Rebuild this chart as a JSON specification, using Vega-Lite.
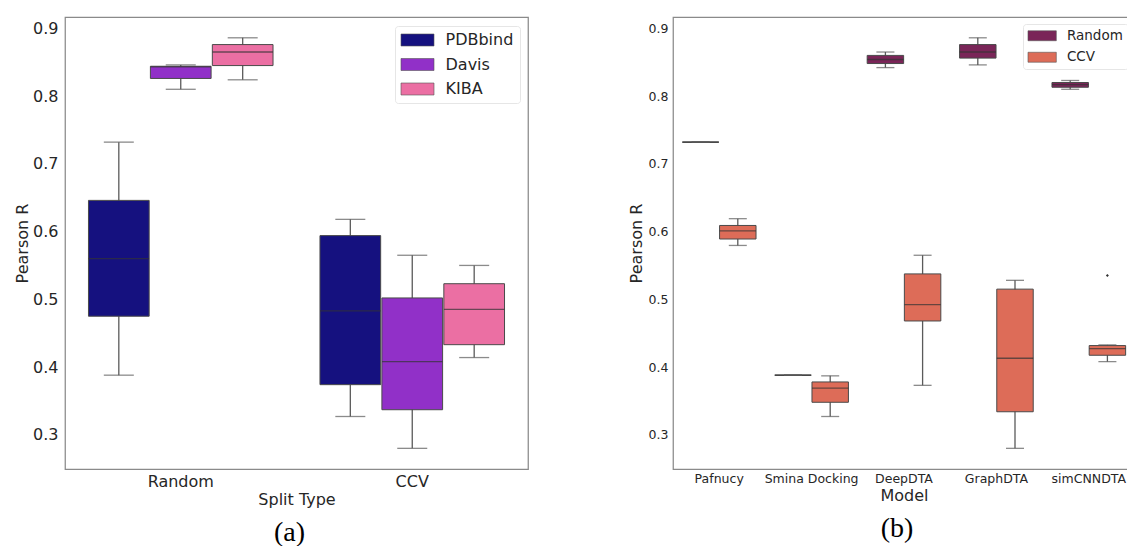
{
  "$schema": "https://vega.github.io/schema/vega-lite/v6.json",
  "background": "white",
  "padding": {"left": 13, "top": 16, "right": 0, "bottom": 0},
  "spacing": 98,
  "config": {
    "font": "DejaVu Sans",
    "view": {"stroke": "#8a8a8a", "strokeWidth": 1.25},
    "axis": {"grid": false, "ticks": false, "tickSize": 0, "domain": false, "labelColor": "#262626", "titleColor": "#262626", "labelFont": "DejaVu Sans", "titleFont": "DejaVu Sans", "titleFontWeight": "normal"},
    "legend": {"labelFont": "DejaVu Sans", "labelColor": "#262626"}
  },
  "datasets": {
    "boxesA": [
      {"split": "Random", "dataset": "PDBbind", "lower": 0.388, "q1": 0.475, "median": 0.560, "q3": 0.646, "upper": 0.732},
      {"split": "Random", "dataset": "Davis", "lower": 0.810, "q1": 0.826, "median": 0.843, "q3": 0.844, "upper": 0.846},
      {"split": "Random", "dataset": "KIBA", "lower": 0.824, "q1": 0.845, "median": 0.865, "q3": 0.876, "upper": 0.886},
      {"split": "CCV", "dataset": "PDBbind", "lower": 0.327, "q1": 0.374, "median": 0.483, "q3": 0.594, "upper": 0.618},
      {"split": "CCV", "dataset": "Davis", "lower": 0.280, "q1": 0.337, "median": 0.408, "q3": 0.502, "upper": 0.565},
      {"split": "CCV", "dataset": "KIBA", "lower": 0.414, "q1": 0.433, "median": 0.485, "q3": 0.523, "upper": 0.550}
    ],
    "boxesB": [
      {"model": "Pafnucy", "split": "Random", "lower": 0.732, "q1": 0.732, "median": 0.732, "q3": 0.732, "upper": 0.732},
      {"model": "Pafnucy", "split": "CCV", "lower": 0.5795, "q1": 0.589, "median": 0.601, "q3": 0.609, "upper": 0.619},
      {"model": "Smina Docking", "split": "Random", "lower": 0.388, "q1": 0.388, "median": 0.388, "q3": 0.388, "upper": 0.388},
      {"model": "Smina Docking", "split": "CCV", "lower": 0.327, "q1": 0.348, "median": 0.369, "q3": 0.378, "upper": 0.387},
      {"model": "DeepDTA", "split": "Random", "lower": 0.842, "q1": 0.848, "median": 0.854, "q3": 0.860, "upper": 0.865},
      {"model": "DeepDTA", "split": "CCV", "lower": 0.373, "q1": 0.468, "median": 0.492, "q3": 0.5375, "upper": 0.565},
      {"model": "GraphDTA", "split": "Random", "lower": 0.846, "q1": 0.856, "median": 0.865, "q3": 0.876, "upper": 0.886},
      {"model": "GraphDTA", "split": "CCV", "lower": 0.280, "q1": 0.334, "median": 0.413, "q3": 0.515, "upper": 0.528},
      {"model": "simCNNDTA", "split": "Random", "lower": 0.810, "q1": 0.813, "median": 0.817, "q3": 0.820, "upper": 0.823},
      {"model": "simCNNDTA", "split": "CCV", "lower": 0.408, "q1": 0.4174, "median": 0.4273, "q3": 0.4317, "upper": 0.4327}
    ],
    "outliersB": [
      {"model": "simCNNDTA", "split": "CCV", "value": 0.535}
    ]
  },
  "resolve": {"scale": {"fill": "independent", "xOffset": "independent", "x": "independent", "y": "independent"}, "legend": {"fill": "independent"}},
  "hconcat": [
    {
      "width": 463,
      "height": 452,
      "data": {"name": "boxesA"},
      "title": {"text": "(a)", "orient": "bottom", "font": "Liberation Serif", "fontSize": 28, "fontWeight": "normal", "color": "#000000", "anchor": "middle", "dx": -7, "offset": 12},
      "encoding": {
        "x": {"field": "split", "type": "nominal", "sort": ["Random", "CCV"], "scale": {"paddingInner": 0, "paddingOuter": 0}, "axis": {"title": "Split Type", "labelAngle": 0, "labelFontSize": 16, "titleFontSize": 16, "labelPadding": 4, "titlePadding": 2}},
        "xOffset": {"field": "dataset", "type": "nominal", "sort": ["PDBbind", "Davis", "KIBA"], "scale": {"paddingInner": 0.02, "paddingOuter": 0.379}}
      },
      "layer": [
        {
          "mark": {"type": "rule", "color": "#5a5a5a", "strokeWidth": 1.3},
          "encoding": {
            "y": {"field": "lower", "type": "quantitative", "title": "Pearson R", "scale": {"domain": [0.2495, 0.9167], "nice": false, "zero": false}, "axis": {"values": [0.3, 0.4, 0.5, 0.6, 0.7, 0.8, 0.9], "format": ".1f", "labelFontSize": 16, "titleFontSize": 16, "labelPadding": 7, "titlePadding": 2}},
            "y2": {"field": "upper"}
          }
        },
        {
          "mark": {"type": "bar", "stroke": "#4a4a4a", "strokeWidth": 1},
          "encoding": {
            "y": {"field": "q1", "type": "quantitative", "title": "Pearson R"},
            "y2": {"field": "q3"},
            "fill": {"field": "dataset", "type": "nominal", "sort": ["PDBbind", "Davis", "KIBA"], "scale": {"domain": ["PDBbind", "Davis", "KIBA"], "range": ["#15117f", "#9130c8", "#eb6fa3"]},
              "legend": {"title": null, "orient": "top-right", "offset": 8.5, "labelFontSize": 16, "labelOffset": 20, "padding": 6, "rowPadding": 8.5, "symbolType": "M-2.2,-0.8H2.2V0.8H-2.2Z", "symbolSize": 225, "symbolOffset": 8.5, "symbolStrokeColor": "#555555", "symbolStrokeWidth": 0.6, "strokeColor": "#e6e6e6", "fillColor": "#ffffff", "cornerRadius": 3}}
          }
        },
        {
          "mark": {"type": "tick", "color": "#333333", "size": 60.5, "thickness": 1.3},
          "encoding": {"y": {"field": "median", "type": "quantitative", "title": "Pearson R"}}
        },
        {
          "mark": {"type": "tick", "color": "#5a5a5a", "size": 30, "thickness": 1.3},
          "encoding": {"y": {"field": "lower", "type": "quantitative", "title": "Pearson R"}}
        },
        {
          "mark": {"type": "tick", "color": "#5a5a5a", "size": 30, "thickness": 1.3},
          "encoding": {"y": {"field": "upper", "type": "quantitative", "title": "Pearson R"}}
        }
      ]
    },
    {
      "width": 462,
      "height": 452,
      "title": {"text": "(b)", "orient": "bottom", "font": "Liberation Serif", "fontSize": 28, "fontWeight": "normal", "color": "#000000", "anchor": "middle", "dx": -7, "offset": 12},
      "encoding": {
        "x": {"field": "model", "type": "nominal", "sort": ["Pafnucy", "Smina Docking", "DeepDTA", "GraphDTA", "simCNNDTA"], "scale": {"domain": ["Pafnucy", "Smina Docking", "DeepDTA", "GraphDTA", "simCNNDTA"], "paddingInner": 0, "paddingOuter": 0}, "axis": {"title": "Model", "labelAngle": 0, "labelFontSize": 12.5, "titleFontSize": 16, "labelPadding": 3.5, "titlePadding": 2}},
        "xOffset": {"field": "split", "type": "nominal", "sort": ["Random", "CCV"], "scale": {"domain": ["Random", "CCV"], "paddingInner": 0.02, "paddingOuter": 0.252}}
      },
      "layer": [
        {
          "data": {"name": "boxesB"},
          "mark": {"type": "rule", "color": "#5a5a5a", "strokeWidth": 1.3},
          "encoding": {
            "y": {"field": "lower", "type": "quantitative", "title": "Pearson R", "scale": {"domain": [0.2495, 0.9167], "nice": false, "zero": false}, "axis": {"values": [0.3, 0.4, 0.5, 0.6, 0.7, 0.8, 0.9], "format": ".1f", "labelFontSize": 12.5, "titleFontSize": 16, "labelPadding": 5, "titlePadding": 4}},
            "y2": {"field": "upper"}
          }
        },
        {
          "data": {"name": "boxesB"},
          "mark": {"type": "bar", "stroke": "#4a4a4a", "strokeWidth": 1},
          "encoding": {
            "y": {"field": "q1", "type": "quantitative", "title": "Pearson R"},
            "y2": {"field": "q3"},
            "fill": {"field": "split", "type": "nominal", "sort": ["Random", "CCV"], "scale": {"domain": ["Random", "CCV"], "range": ["#7a2558", "#dd6c58"]},
              "legend": {"title": null, "orient": "top-right", "offset": 7, "labelFontSize": 13.5, "labelOffset": 18, "padding": 5, "rowPadding": 6.5, "symbolType": "M-2.36,-0.83H2.36V0.83H-2.36Z", "symbolSize": 144, "symbolOffset": 7.4, "symbolStrokeColor": "#555555", "symbolStrokeWidth": 0.6, "strokeColor": "#e6e6e6", "fillColor": "#ffffff", "cornerRadius": 3}}
          }
        },
        {
          "data": {"name": "boxesB"},
          "mark": {"type": "tick", "color": "#333333", "size": 36.4, "thickness": 1.3},
          "encoding": {"y": {"field": "median", "type": "quantitative", "title": "Pearson R"}}
        },
        {
          "data": {"name": "boxesB"},
          "mark": {"type": "tick", "color": "#5a5a5a", "size": 18, "thickness": 1.3},
          "encoding": {"y": {"field": "lower", "type": "quantitative", "title": "Pearson R"}}
        },
        {
          "data": {"name": "boxesB"},
          "mark": {"type": "tick", "color": "#5a5a5a", "size": 18, "thickness": 1.3},
          "encoding": {"y": {"field": "upper", "type": "quantitative", "title": "Pearson R"}}
        },
        {
          "data": {"name": "outliersB"},
          "mark": {"type": "point", "shape": "diamond", "filled": true, "color": "#333333", "size": 9, "opacity": 1},
          "encoding": {"y": {"field": "value", "type": "quantitative", "title": "Pearson R"}}
        }
      ]
    }
  ]
}
